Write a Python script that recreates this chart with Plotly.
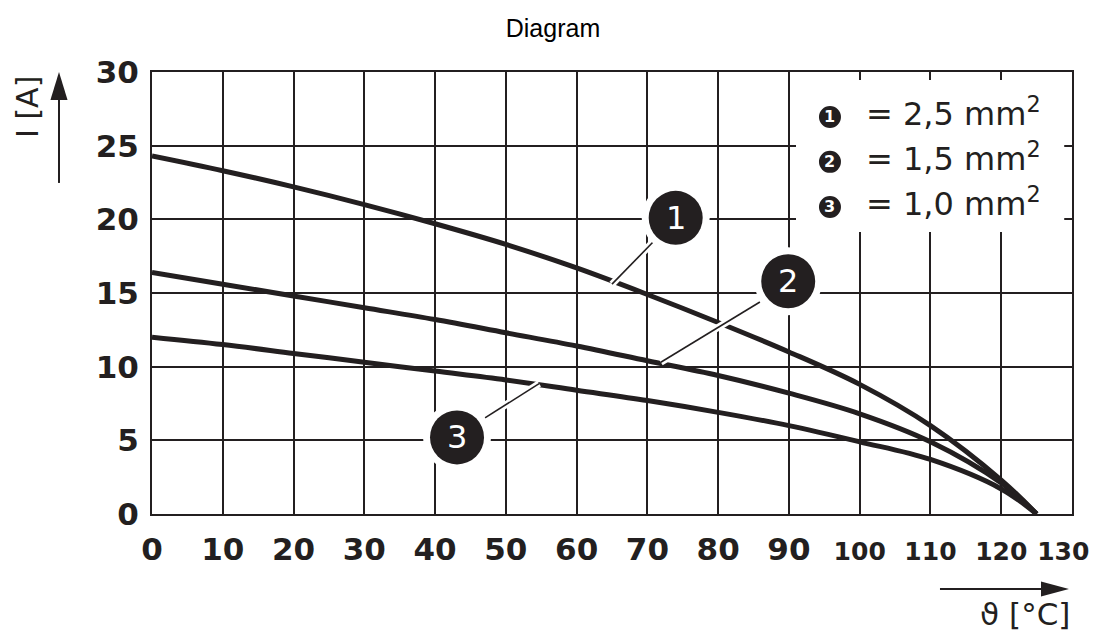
import plotly.graph_objects as go

INK = "#231f20"

# curve data (temperature in °C, current in A)
temp_1 = [0, 10, 20, 30, 40, 50, 60, 70, 80, 90, 100, 110, 120, 125]
curr_1 = [24.3, 23.3, 22.2, 21.0, 19.7, 18.3, 16.7, 14.9, 13.0, 11.0, 8.8, 6.0, 2.3, 0]
temp_2 = [0, 10, 20, 30, 40, 50, 60, 70, 80, 90, 100, 110, 120, 125]
curr_2 = [16.4, 15.6, 14.8, 14.0, 13.2, 12.3, 11.4, 10.4, 9.4, 8.2, 6.8, 4.9, 2.1, 0]
temp_3 = [0, 10, 20, 30, 40, 50, 60, 70, 80, 90, 100, 110, 120, 125]
curr_3 = [12.0, 11.5, 10.9, 10.3, 9.7, 9.1, 8.4, 7.7, 6.9, 6.0, 4.9, 3.7, 1.7, 0]

x_ticks = [0, 10, 20, 30, 40, 50, 60, 70, 80, 90, 100, 110, 120, 130]
y_ticks = [0, 5, 10, 15, 20, 25, 30]

# callout bubbles and their leader lines (data coords)
callout_labels = ["1", "2", "3"]
callout_x = [74.0, 89.9, 43.1]
callout_y = [20.1, 15.8, 5.2]
leader_start = [(70.8, 18.46), (85.9, 14.39), (47.05, 6.52)]
leader_end = [(65.0, 15.6), (71.9, 10.3), (54.7, 8.85)]

legend_labels = ["1", "2", "3"]
legend_text = ["= 2,5 mm<sup>2</sup>", "= 1,5 mm<sup>2</sup>", "= 1,0 mm<sup>2</sup>"]
legend_y = [26.95, 23.9, 20.84]

fig = go.Figure()
for xs, ys in [(temp_1, curr_1), (temp_2, curr_2), (temp_3, curr_3)]:
    fig.add_trace(go.Scatter(x=xs, y=ys, mode="lines", line=dict(color=INK, width=5, shape="spline", smoothing=1),
                             hoverinfo="skip", showlegend=False))

shapes = []
# legend panel
shapes.append(dict(type="rect", xref="x", yref="y", x0=91.0, x1=128.9, y0=19.14, y1=29.46,
                   fillcolor="white", line=dict(width=0), layer="above"))
for (x0, y0), (x1, y1) in zip(leader_start, leader_end):
    shapes.append(dict(type="line", xref="x", yref="y", x0=x0, y0=y0, x1=x1, y1=y1,
                       line=dict(color="white", width=7), layer="above"))
for (x0, y0), (x1, y1) in zip(leader_start, leader_end):
    shapes.append(dict(type="line", xref="x", yref="y", x0=x0, y0=y0, x1=x1, y1=y1,
                       line=dict(color=INK, width=1.6), layer="above"))
for cx, cy in zip(callout_x, callout_y):
    shapes.append(dict(type="circle", xref="x", yref="y", xsizemode="pixel", ysizemode="pixel",
                       xanchor=cx, yanchor=cy, x0=-34, x1=34, y0=-34, y1=34,
                       fillcolor="white", line=dict(width=0), layer="above"))
    shapes.append(dict(type="circle", xref="x", yref="y", xsizemode="pixel", ysizemode="pixel",
                       xanchor=cx, yanchor=cy, x0=-27, x1=27, y0=-27, y1=27,
                       fillcolor=INK, line=dict(width=0), layer="above"))
for ly in legend_y:
    shapes.append(dict(type="circle", xref="x", yref="y", xsizemode="pixel", ysizemode="pixel",
                       xanchor=95.8, yanchor=ly, x0=-11, x1=11, y0=-11, y1=11,
                       fillcolor=INK, line=dict(width=0), layer="above"))

# axis arrows (paper coords)
shapes.append(dict(type="line", xref="paper", yref="paper", x0=-0.1011, x1=-0.1011, y0=0.749, y1=0.94,
                   line=dict(color=INK, width=2)))
shapes.append(dict(type="path", xref="paper", yref="paper",
                   path="M -0.1104,0.9367 L -0.0918,0.9367 L -0.1011,1.0 Z", fillcolor=INK, line=dict(width=0)))
shapes.append(dict(type="line", xref="paper", yref="paper", x0=0.8565, x1=0.97, y0=-0.1697, y1=-0.1697,
                   line=dict(color=INK, width=2)))
shapes.append(dict(type="path", xref="paper", yref="paper",
                   path="M 0.9663,-0.1527 L 0.9663,-0.1867 L 0.9967,-0.1697 Z", fillcolor=INK, line=dict(width=0)))

annotations = []
for lab, cx, cy in zip(callout_labels, callout_x, callout_y):
    annotations.append(dict(x=cx, y=cy, xref="x", yref="y", text=lab, showarrow=False,
                            font=dict(family="DejaVu Sans", size=32, color="white")))
for lab, txt, ly in zip(legend_labels, legend_text, legend_y):
    annotations.append(dict(x=95.8, y=ly, xref="x", yref="y", text=lab, showarrow=False,
                            font=dict(family="DejaVu Sans", size=16, color="white", weight="bold")))
    annotations.append(dict(x=100.6, y=ly + 0.35, xref="x", yref="y", text=txt, showarrow=False,
                            xanchor="left", yanchor="middle",
                            font=dict(family="DejaVu Sans", size=32, color=INK)))
annotations.append(dict(x=-0.1359, y=0.9208, xref="paper", yref="paper", text="I [A]", textangle=-90,
                        xanchor="center", yanchor="middle",
                        showarrow=False, font=dict(family="DejaVu Sans", size=30, color=INK)))
annotations.append(dict(x=1.0, y=-0.226, xref="paper", yref="paper", text="ϑ [°C]", xanchor="right",
                        yanchor="middle", showarrow=False, font=dict(family="DejaVu Sans", size=31, color=INK)))

x_ticktext = [str(v) if v < 100 else f'<span style="font-size:25px">{v}</span>' for v in x_ticks]
x_ticktext[-1] = '<span style="font-size:25px">130&nbsp;&nbsp;</span>'

# the page body adds an 8px margin, so the figure is 8px smaller than the window
fig.update_layout(
    width=1090, height=629,
    margin=dict(l=144, r=26, t=64, b=123),
    paper_bgcolor="white", plot_bgcolor="white",
    title=dict(text="Diagram", x=0.5, xanchor="center", y=0.968, yanchor="middle",
               font=dict(family="Liberation Sans", size=25, color="black")),
    shapes=shapes, annotations=annotations, showlegend=False,
)
fig.update_xaxes(range=[0, 130], tickvals=x_ticks, ticktext=x_ticktext, showgrid=True, gridcolor=INK, gridwidth=2,
                 showline=True, linecolor=INK, linewidth=2, mirror=True, zeroline=False, ticks="",
                 automargin=False, ticklabelstandoff=7, ticklabeloverflow="allow",
                 tickfont=dict(family="DejaVu Sans", size=31, color=INK, weight="bold"))
fig.update_yaxes(range=[0, 30], tickvals=y_ticks, showgrid=True, gridcolor=INK, gridwidth=2,
                 showline=True, linecolor=INK, linewidth=2, mirror=True, zeroline=False, ticks="",
                 automargin=False, ticklabelstandoff=5,
                 tickfont=dict(family="DejaVu Sans", size=31, color=INK, weight="bold"))

fig.write_html("out.html")
